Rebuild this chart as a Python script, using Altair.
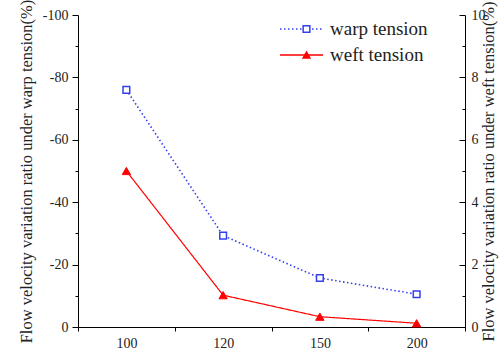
import altair as alt
import pandas as pd

categories = ["100", "120", "150", "200"]
warp_values = [-76.0, -29.3, -15.7, -10.5]
weft_values = [5.0, 1.02, 0.33, 0.12]
series_names = ["warp tension", "weft tension"]
marker_names = ["warp marker", "weft marker"]
left_ticks = list(range(-100, 1, 10))
right_ticks = list(range(0, 11, 1))
left_title = "Flow velocity variation ratio under warp tension(%)"
right_title = "Flow velocity variation ratio under weft tension(%)"

warp_df = pd.DataFrame({"x": categories, "v": warp_values, "series": series_names[0], "mk": marker_names[0]})
weft_df = pd.DataFrame({"x": categories, "v": weft_values, "series": series_names[1], "mk": marker_names[1]})

FONT = "Liberation Serif"
BLUE = "#3440f0"
RED = "#ff0000"
LBL = "#222222"

x_enc = alt.X(
    "x:N", sort=categories,
    scale=alt.Scale(type="band", domain=categories, paddingInner=0, paddingOuter=0),
    axis=alt.Axis(title=None, labelAngle=0, tickBand="extent", domainColor="black", tickColor="black",
                  tickSize=4, labelPadding=5, labelFont=FONT, labelFontSize=14, labelColor=LBL, grid=False),
)

y_left = alt.Y(
    "v:Q",
    scale=alt.Scale(domain=[-100, 0], reverse=True, nice=False, zero=False),
    axis=alt.Axis(title=left_title, orient="left", values=left_ticks, grid=False,
                  labelExpr="datum.value % 20 === 0 ? '' + datum.value : ''", labelOverlap=False,
                  tickSize={"condition": {"test": "datum.value % 20 === 0", "value": 6}, "value": 3},
                  domainColor="black", tickColor="black", labelPadding=4,
                  labelFont=FONT, labelFontSize=14, labelColor=LBL,
                  titleFont=FONT, titleFontSize=16.5, titleFontWeight="normal", titleColor=LBL, titlePadding=8),
)

y_right = alt.Y(
    "v:Q",
    scale=alt.Scale(domain=[0, 10], nice=False),
    axis=alt.Axis(title=right_title, orient="right", values=right_ticks, grid=False,
                  labelExpr="datum.value % 2 === 0 ? '' + datum.value : ''", labelOverlap=False,
                  tickSize={"condition": {"test": "datum.value % 2 === 0", "value": -6}, "value": -3},
                  domainColor="black", tickColor="black", labelPadding=12,
                  labelFont=FONT, labelFontSize=14, labelColor=LBL,
                  titleFont=FONT, titleFontSize=16.5, titleFontWeight="normal", titleColor=LBL,
                  titleAngle=270, titlePadding=11),
)

legend_a = alt.Legend(title=None, orient="none", legendX=201, legendY=4, padding=0,
                      symbolType="stroke", symbolSize=1849, symbolStrokeWidth=1.5,
                      labelFont=FONT, labelFontSize=19, labelColor=LBL, labelOffset=6,
                      clipHeight=20, rowPadding=6)
legend_b = alt.Legend(title=None, orient="none", legendX=219, legendY=4, padding=0,
                      symbolSize=45, symbolStrokeWidth=1.5, labelFont=FONT, labelFontSize=19,
                      labelExpr="''", clipHeight=20, rowPadding=6)

color_enc = alt.Color("series:N", scale=alt.Scale(domain=series_names, range=[BLUE, RED]), legend=legend_a)
dash_enc = alt.StrokeDash("series:N", scale=alt.Scale(domain=series_names, range=[[1.5, 2.5], [1, 0]]), legend=legend_a)
shape_enc = alt.Shape("mk:N", scale=alt.Scale(domain=marker_names, range=["square", "triangle-up"]), legend=legend_b)
fill_enc = alt.Fill("mk:N", scale=alt.Scale(domain=marker_names, range=["white", RED]), legend=legend_b)
stroke_enc = alt.Stroke("mk:N", scale=alt.Scale(domain=marker_names, range=[BLUE, RED]), legend=legend_b)

warp_base = alt.Chart(warp_df).encode(x=x_enc, y=y_left)
warp_line = warp_base.mark_line(strokeWidth=1.6).encode(color=color_enc, strokeDash=dash_enc)
warp_pts = warp_base.mark_point(strokeWidth=1.5, size=45, opacity=1, fillOpacity=1).encode(
    shape=shape_enc, fill=fill_enc, stroke=stroke_enc)

weft_base = alt.Chart(weft_df).encode(x=x_enc, y=y_right)
weft_line = weft_base.mark_line(strokeWidth=1.2).encode(color=color_enc, strokeDash=dash_enc)
weft_pts = weft_base.mark_point(strokeWidth=1, size=70, opacity=1, fillOpacity=1).encode(
    shape=shape_enc, fill=fill_enc, stroke=stroke_enc)

left = alt.layer(warp_line, warp_pts)
right = alt.layer(weft_line, weft_pts)

chart = alt.layer(left, right).resolve_scale(y="independent").properties(
    width=387, height=312,
    autosize=alt.AutoSizeParams(type="none"),
    padding={"left": 78, "top": 15, "right": 39, "bottom": 23},
    background="white",
).configure_view(stroke=None).configure_legend(labelFont=FONT, labelColor=LBL)

chart.save("out.html", embed_options={"renderer": "svg", "actions": False})
